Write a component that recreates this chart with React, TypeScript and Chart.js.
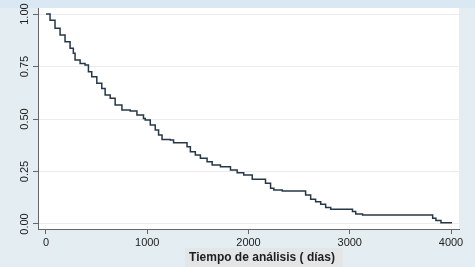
import React, { useEffect, useRef } from "react";
import { Chart, registerables } from "chart.js";

Chart.register(...registerables);

// Kaplan-Meier estimate
const times = [0, 40, 89, 139, 188, 238, 270, 287, 337, 386, 419, 452, 502, 551, 584, 634, 683, 750, 832, 898, 963, 980, 1030, 1079, 1112, 1146, 1228, 1260, 1393, 1426, 1475, 1525, 1591, 1641, 1723, 1822, 1888, 1953, 2037, 2168, 2218, 2250, 2334, 2564, 2614, 2663, 2713, 2762, 2812, 3027, 3059, 3126, 3819, 3851, 3901, 4010];
const survival = [1.0, 0.971, 0.932, 0.9, 0.868, 0.837, 0.813, 0.781, 0.765, 0.757, 0.725, 0.701, 0.67, 0.646, 0.614, 0.599, 0.567, 0.543, 0.538, 0.519, 0.503, 0.495, 0.471, 0.448, 0.424, 0.403, 0.4, 0.387, 0.368, 0.344, 0.329, 0.313, 0.297, 0.281, 0.273, 0.257, 0.244, 0.233, 0.213, 0.194, 0.17, 0.162, 0.157, 0.138, 0.118, 0.106, 0.094, 0.078, 0.07, 0.059, 0.048, 0.043, 0.027, 0.016, 0.006, 0.006];
const xTicks = [0, 1000, 2000, 3000, 4000];
const yTicks = [0, 0.25, 0.5, 0.75, 1];
const xTitle = "Tiempo de análisis ( días)";

const FONT = "'Liberation Sans', Arial, sans-serif";

const bgPlugin = {
  id: "bgPlugin",
  beforeDraw(chart: any) {
    const { ctx, chartArea } = chart;
    ctx.save();
    ctx.fillStyle = "#e4eef2";
    ctx.fillRect(0, 0, chart.width, chart.height);
    ctx.fillStyle = "#d9e8f3";
    ctx.fillRect(0, 0, chart.width, 8);
    ctx.fillStyle = "#ffffff";
    ctx.fillRect(chartArea.left, chartArea.top, chartArea.right - chartArea.left, chartArea.bottom - chartArea.top);
    ctx.restore();
  },
  afterDraw(chart: any) {
    const { ctx } = chart;
    ctx.save();
    ctx.fillStyle = "#e3e5e7";
    ctx.fillRect(185, 248, 158, 19);
    ctx.fillStyle = "#1e1e1e";
    ctx.font = "bold 12px " + FONT;
    ctx.textAlign = "center";
    ctx.textBaseline = "middle";
    ctx.fillText(xTitle, 262, 257.5);
    ctx.restore();
  },
};

export default function App() {
  const ref = useRef<HTMLCanvasElement>(null);
  useEffect(() => {
    document.body.style.margin = "0";
    const chart = new Chart(ref.current!, {
      type: "line",
      data: {
        datasets: [
          {
            data: times.map((t, i) => ({ x: t, y: survival[i] })),
            stepped: true,
            borderColor: "#24384a",
            borderWidth: 1.5,
            pointRadius: 0,
            fill: false,
          },
        ],
      },
      options: {
        animation: false,
        responsive: false,
        maintainAspectRatio: false,
        layout: { padding: { left: 0, right: 16, top: 8, bottom: 0 } },
        plugins: { legend: { display: false }, tooltip: { enabled: false } },
        scales: {
          x: {
            type: "linear",
            min: -79,
            max: 4079,
            afterFit: (s: any) => { s.height = 38; },
            afterBuildTicks: (s: any) => { s.ticks = xTicks.map((v) => ({ value: v })); },
            grid: { drawOnChartArea: false, drawTicks: true, tickLength: 5, tickColor: "#666666" },
            border: { display: true, color: "#666666", width: 1 },
            ticks: { color: "#222222", font: { family: FONT, size: 11 }, padding: 2, maxRotation: 0, callback: (v: any) => String(v) },
          },
          y: {
            type: "linear",
            min: -0.024,
            max: 1.029,
            afterFit: (s: any) => { s.width = 38; },
            afterBuildTicks: (s: any) => { s.ticks = yTicks.map((v) => ({ value: v })); },
            grid: { drawOnChartArea: true, color: "#ececec", lineWidth: 1, drawTicks: true, tickLength: 5, tickColor: "#666666" },
            border: { display: true, color: "#666666", width: 1 },
            ticks: {
              color: "#222222",
              font: { family: FONT, size: 11 },
              minRotation: 90,
              maxRotation: 90,
              crossAlign: "center",
              padding: -3,
              callback: (v: any) => Number(v).toFixed(2),
            },
          },
        },
      },
      plugins: [bgPlugin],
    });
    return () => chart.destroy();
  }, []);
  return (
    <div style={{ position: "fixed", left: 0, top: 0, width: 475, height: 267 }}>
      <canvas ref={ref} width={475} height={267} style={{ display: "block" }} />
    </div>
  );
}
